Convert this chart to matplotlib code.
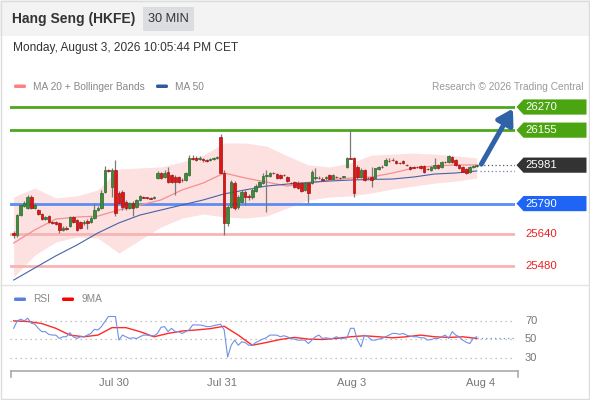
import numpy as np
import matplotlib
matplotlib.use("Agg")
import matplotlib.pyplot as plt
from matplotlib.patches import Rectangle, Polygon, FancyBboxPatch
from matplotlib.transforms import blended_transform_factory

plt.rcParams['font.family'] = ['Liberation Sans', 'DejaVu Sans']

# ---------------- data ----------------
opens = [25644, 25634, 25733, 25778, 25768, 25823, 25768, 25758, 25738, 25713,
         25728, 25698, 25698, 25694, 25659, 25669, 25679, 25723, 25708, 25698,
         25694, 25703, 25698, 25718, 25758, 25768, 25848, 25957, 25872, 25957,
         25843, 25848, 25798, 25768, 25793, 25773, 25808, 25823, 25820, 25818,
         25818, 25917, 25942, 25922, 25947, 25932, 25922, 25922, 25907, 25907,
         25932, 26017, 26017, 26012, 26012, 26007, 26007, 26012, 26017, 26121,
         25942, 25694, 25773, 25892, 25773, 25798, 25848, 25828, 25823, 25853,
         25877, 25892, 25927, 25927, 25942, 25937, 25932, 25932, 25922, 25892,
         25897, 25892, 25892, 25858, 25892, 25892, 25917, 25917, 25912, 25917,
         25932, 25912, 25922, 25917, 25922, 25972, 26017, 26017, 25972, 25922,
         25957, 25917, 25922, 25917, 25962, 25972, 25982, 26002, 26007, 26002,
         25992, 26002, 25982, 25972, 25972, 25972, 25977, 25977, 25962, 25957,
         25967, 25982, 25972, 25997, 25997, 26022, 26007, 25982, 25972, 25962,
         25947, 25972, 25977]
highs = [25654, 25738, 25788, 25803, 25833, 25833, 25793, 25763, 25743, 25728,
         25733, 25703, 25703, 25698, 25679, 25679, 25728, 25728, 25713, 25703,
         25708, 25713, 25728, 25793, 25778, 25858, 25977, 25962, 25967, 26007,
         25853, 25858, 25808, 25798, 25803, 25813, 25833, 25828, 25823, 25823,
         25828, 25952, 25947, 25957, 25972, 25937, 25932, 25927, 25917, 25947,
         26031, 26031, 26027, 26027, 26017, 26012, 26017, 26022, 26027, 26136,
         25957, 25783, 25907, 25902, 25833, 25858, 25858, 25838, 25867, 25887,
         25902, 25942, 25957, 25947, 25947, 25942, 25937, 25937, 25927, 25897,
         25902, 25902, 25897, 25897, 25897, 25957, 25967, 25927, 25922, 25927,
         25937, 25937, 25927, 25922, 25927, 26022, 26156, 26022, 25982, 25967,
         25962, 25922, 25972, 25967, 25977, 25982, 26017, 26017, 26017, 26007,
         25997, 26007, 25987, 25977, 25977, 25977, 25982, 25982, 25967, 25977,
         26017, 25987, 26002, 26002, 26031, 26027, 26012, 25987, 25977, 25967,
         25977, 25982, 25987]
lows = [25619, 25624, 25728, 25773, 25763, 25763, 25763, 25733, 25708, 25708,
        25694, 25689, 25684, 25644, 25654, 25659, 25674, 25694, 25654, 25664,
        25684, 25664, 25694, 25713, 25753, 25763, 25843, 25947, 25823, 25728,
        25788, 25758, 25758, 25763, 25728, 25768, 25803, 25818, 25813, 25813,
        25813, 25912, 25912, 25917, 25892, 25892, 25833, 25892, 25897, 25902,
        25927, 26007, 26002, 26007, 25997, 25997, 26002, 26007, 26012, 25937,
        25634, 25679, 25768, 25758, 25763, 25793, 25783, 25808, 25813, 25848,
        25872, 25887, 25748, 25922, 25937, 25912, 25912, 25927, 25897, 25887,
        25867, 25862, 25848, 25853, 25793, 25887, 25907, 25912, 25902, 25907,
        25907, 25912, 25917, 25912, 25917, 25967, 26012, 25823, 25912, 25917,
        25902, 25907, 25872, 25912, 25957, 25967, 25977, 25997, 26002, 25987,
        25987, 25987, 25977, 25957, 25967, 25967, 25962, 25942, 25957, 25952,
        25962, 25962, 25967, 25992, 25992, 25992, 25977, 25962, 25947, 25937,
        25942, 25967, 25972]
closes = [25634, 25733, 25783, 25793, 25823, 25768, 25783, 25738, 25713, 25723,
          25698, 25694, 25689, 25659, 25669, 25664, 25723, 25698, 25659, 25669,
          25698, 25694, 25718, 25758, 25768, 25843, 25957, 25952, 25957, 25743,
          25793, 25773, 25768, 25793, 25768, 25808, 25828, 25820, 25818, 25815,
          25823, 25942, 25917, 25942, 25897, 25897, 25897, 25897, 25905, 25942,
          26017, 26014, 26007, 26017, 26007, 26002, 26012, 26017, 26022, 25942,
          25694, 25773, 25897, 25768, 25823, 25848, 25823, 25823, 25858, 25877,
          25897, 25927, 25932, 25942, 25940, 25917, 25917, 25930, 25902, 25890,
          25872, 25867, 25853, 25892, 25843, 25947, 25922, 25915, 25907, 25922,
          25912, 25932, 25920, 25915, 25925, 26017, 26014, 25843, 25922, 25957,
          25907, 25915, 25907, 25967, 25972, 25970, 26007, 26000, 26005, 25992,
          25990, 25992, 25980, 25962, 25968, 25970, 25967, 25947, 25960, 25972,
          25982, 25967, 25997, 25995, 26027, 25997, 25982, 25967, 25947, 25942,
          25972, 25975, 25981]

ind_idx = [0, 6, 12, 18, 24, 30, 36, 42, 48, 54, 60, 66, 72, 78, 84, 90, 96,
           102, 108, 114, 120, 126, 132]
ma50 = [25410, 25470, 25530, 25584, 25644, 25694, 25733, 25758, 25783, 25808,
        25838, 25858, 25877, 25887, 25895, 25902, 25907, 25910, 25912, 25922,
        25937, 25942, 25952]
ma20 = [25594, 25659, 25713, 25723, 25728, 25758, 25783, 25808, 25858, 25892,
        25942, 25917, 25897, 25877, 25892, 25907, 25917, 25922, 25942, 25967,
        25977, 25982, 25982]
bb_upper = [25823, 25867, 25818, 25828, 25858, 25962, 25967, 25972, 25997, 26031,
            26091, 26091, 26076, 26027, 25982, 25972, 25992, 26031, 26036, 26041,
            26036, 26027, 26017]
bb_lower = [25425, 25534, 25599, 25624, 25619, 25544, 25609, 25674, 25718, 25738,
            25723, 25718, 25728, 25768, 25808, 25823, 25828, 25843, 25862, 25877,
            25892, 25902, 25917]

rsi = [62.0, 70.0, 71.8, 70.0, 72.9, 67.5, 66.4, 62.0, 58.4, 58.4,
       55.5, 54.7, 54.7, 51.1, 52.9, 52.9, 57.3, 52.9, 51.1, 52.9,
       52.9, 54.7, 56.5, 60.9, 60.2, 63.8, 69.3, 74.7, 74.7, 74.7,
       49.3, 54.7, 52.9, 51.1, 51.8, 51.1, 52.9, 54.7, 54.7, 54.0,
       54.0, 56.5, 63.1, 63.8, 58.4, 62.0, 58.4, 58.4, 56.5, 58.4,
       60.2, 65.6, 65.6, 65.6, 64.9, 63.8, 63.8, 64.9, 65.6, 66.4,
       60.2, 31.1, 43.8, 49.3, 43.8, 47.5, 46.7, 43.8, 43.8, 46.7,
       48.5, 50.4, 51.8, 54.7, 54.7, 54.7, 52.9, 54.0, 52.9, 51.1,
       50.4, 49.3, 49.3, 49.3, 45.6, 49.3, 52.9, 54.7, 51.1, 51.8,
       51.1, 51.1, 52.9, 51.1, 51.1, 51.8, 62.0, 62.0, 49.3, 42.0,
       54.7, 52.9, 49.3, 49.3, 50.4, 51.1, 52.9, 54.7, 56.5, 56.5,
       55.5, 56.5, 54.7, 53.5, 52.9, 52.9, 51.8, 51.8, 49.3, 50.0,
       51.1, 51.1, 52.9, 54.7, 51.1, 58.4, 54.7, 52.9, 49.3, 47.0,
       45.6, 51.1, 52.9]
rsi_ma_idx = [0, 4, 8, 12, 16, 20, 24, 28, 32, 36, 40, 44, 48, 52, 56, 60, 64,
              68, 72, 76, 80, 84, 88, 92, 96, 100, 104, 108, 112, 116, 120,
              124, 128, 132]
rsi_ma9 = [70.0, 69.3, 67.1, 62.0, 54.7, 52.9, 54.7, 62.7, 62.7, 58.4, 52.9,
           56.5, 59.1, 60.2, 61.6, 64.2, 54.7, 43.8, 46.7, 50.0, 52.2, 50.4,
           50.0, 51.1, 52.9, 54.0, 52.9, 51.8, 52.9, 54.7, 52.9, 52.2, 52.9,
           51.1]

tick_pos = [28.6, 59.4, 96.2, 133.2]
tick_labels = ["Jul 30", "Jul 31", "Aug 3", "Aug 4"]

levels_green = [26270, 26155]
level_last = 25981
level_blue = 25790
levels_red = [25640, 25480]
rsi_levels = [70, 50, 30]

# ---------------- figure ----------------
W, H = 590, 400
fig = plt.figure(figsize=(W / 100, H / 100), dpi=100)
fig.patch.set_facecolor('white')


def rect(x0, y0, x1, y1):
    return [x0 / W, 1 - y1 / H, (x1 - x0) / W, (y1 - y0) / H]


bg = fig.add_axes([0, 0, 1, 1])
bg.set_xlim(0, W)
bg.set_ylim(H, 0)
bg.axis('off')
bg.set_zorder(0)

# header
bg.add_patch(Rectangle((0, 0), W, 36, color='#f3f3f3', lw=0))
bg.add_patch(Rectangle((0.5, 0.5), W - 1.5, H - 1.5, fill=False, ec='#dcdcdc', lw=1))
bg.text(12, 19, "Hang Seng (HKFE)", fontsize=10.0, fontweight='bold', color='#333333',
        va='center', ha='left')
bg.add_patch(Rectangle((143, 7), 51, 24, color='#dcdde0', lw=0))
bg.text(168.5, 19.5, "30 MIN", fontsize=9.2, color='#333333', va='center', ha='center')
bg.text(13, 48, "Monday, August 3, 2026 10:05:44 PM CET", fontsize=8.6, color='#333333',
        va='center', ha='left')

# legends
bg.add_patch(FancyBboxPatch((14, 84.5), 12, 3.5, boxstyle='round,pad=0,rounding_size=1.5',
                            color='#ff8080', lw=0))
bg.text(33, 86.5, "MA 20 + Bollinger Bands", fontsize=7.3, color='#888888', va='center')
bg.add_patch(FancyBboxPatch((156, 84.5), 12, 3.5, boxstyle='round,pad=0,rounding_size=1.5',
                            color='#2f5a9e', lw=0))
bg.text(175, 86.5, "MA 50", fontsize=7.3, color='#888888', va='center')
bg.text(583, 86.5, "Research \u00a9 2026 Trading Central", fontsize=7.3, color='#999999',
        va='center', ha='right')

bg.add_patch(FancyBboxPatch((14, 297.5), 12, 3.5, boxstyle='round,pad=0,rounding_size=1.5',
                            color='#5b7fe0', lw=0))
bg.text(33, 299.5, "RSI", fontsize=7.3, color='#888888', va='center')
bg.add_patch(FancyBboxPatch((62, 297.5), 12, 3.5, boxstyle='round,pad=0,rounding_size=1.5',
                            color='#ff0000', lw=0))
bg.text(81, 299.5, "9MA", fontsize=7.3, color='#888888', va='center')

# separator between panels
bg.plot([0, W], [284.5, 284.5], color='#e4e4e4', lw=1)

# ---------------- price panel ----------------
ax = fig.add_axes(rect(10, 60, 515, 284))
ax.set_zorder(1)
ax.patch.set_alpha(0)
xmin, xmax = -1.055, 142.9
ymin, ymax = 25390.3, 26503.6
ax.set_xlim(xmin, xmax)
ax.set_ylim(ymin, ymax)
ax.axis('off')
ppx = (ymax - ymin) / 224.0

idx = np.arange(len(closes))
o = np.array(opens, float)
c = np.array(closes, float)
hi = np.array(highs, float)
lo = np.array(lows, float)

ax.fill_between(ind_idx, bb_lower, bb_upper, color='#fde0e0', lw=0, zorder=1)
ax.plot(ind_idx, ma20, color='#f49090', lw=0.9, zorder=2)
ax.plot(ind_idx, ma50, color='#4563a8', lw=0.8, zorder=2)

for lv in levels_green:
    ax.axhline(lv, color='#4ea81c', lw=2, zorder=1.5)
ax.axhline(level_blue, color='#5b8ef2', lw=2, zorder=1.5)
for lv in levels_red:
    ax.axhline(lv, color='#f7b4b4', lw=2, zorder=1.5)

up = c >= o
ax.vlines(idx, lo, hi, color='#7a7a7a', lw=0.9, zorder=3)
body_h = np.where(np.abs(c - o) < 4, 4, np.abs(c - o))
body_b = np.minimum(o, c)
ax.bar(idx[up], body_h[up], bottom=body_b[up], width=0.72, color='#3d8b3d',
       edgecolor='#2b6a2b', lw=0.5, zorder=4)
ax.bar(idx[~up], body_h[~up], bottom=body_b[~up], width=0.72, color='#dd1515',
       edgecolor='#a81010', lw=0.5, zorder=4)

# dotted extensions
x_last = idx[-1]
ax.plot([x_last + 0.8, xmax], [closes[-1], closes[-1]], ls=(0, (1, 2)), color='#555555',
        lw=0.9, zorder=2)
ax.plot([x_last + 0.8, xmax], [ma50[-1], ma50[-1]], ls=(0, (1, 2)), color='#6f86c0',
        lw=0.9, zorder=2)

# arrow
ax.annotate('', xy=(142.3, 26262), xytext=(x_last + 1.3, closes[-1] + 5),
            arrowprops=dict(arrowstyle='-|>,head_length=0.9,head_width=0.55', lw=3.6,
                            color='#2f62a6', shrinkA=0, shrinkB=0),
            zorder=6, annotation_clip=False)

tr = blended_transform_factory(ax.transAxes, ax.transData)


def tag(price, color, text):
    h = 7.6 * ppx
    x0 = 1.0 + 1.5 / 505
    x1 = 1.0 + 8.5 / 505
    x2 = 1.0 + 71.5 / 505
    poly = Polygon([(x0, price), (x1, price + h), (x2, price + h), (x2, price - h),
                    (x1, price - h)], closed=True, transform=tr, clip_on=False,
                   color=color, lw=0, zorder=5)
    ax.add_patch(poly)
    ax.text(1.0 + 10.5 / 505, price, text, transform=tr, color='white', fontsize=8.2,
            va='center', ha='left', clip_on=False, zorder=6)


for lv in levels_green:
    tag(lv, '#4aa511', str(lv))
tag(level_last, '#333333', str(level_last))
tag(level_blue, '#1e64f5', str(level_blue))
for lv in levels_red:
    ax.text(1.0 + 10.5 / 505, lv, str(lv), transform=tr, color='#ee2020', fontsize=8.2,
            va='center', ha='left', clip_on=False)

# ---------------- RSI panel ----------------
ax2 = fig.add_axes(rect(10, 300, 515, 370))
ax2.set_zorder(1)
ax2.patch.set_alpha(0)
ax2.set_xlim(xmin, xmax)
ax2.set_ylim(17.2, 92.4)
ax2.axis('off')
for lv in rsi_levels:
    ax2.axhline(lv, color='#b0b0b0', lw=0.9, ls=(0, (1, 3)))
    ax2.text(1.0 + 10 / 505, lv, str(lv), transform=blended_transform_factory(
        ax2.transAxes, ax2.transData), color='#777777', fontsize=8, va='center',
        ha='left', clip_on=False)
ax2.plot(idx, rsi, color='#7090e8', lw=0.8, zorder=3)
ax2.plot(rsi_ma_idx, rsi_ma9, color='#ff2a2a', lw=1.0, zorder=2)
ax2.plot([x_last, xmax], [rsi[-1] - 1.5, rsi[-1] - 1.5], ls=(0, (1, 2.5)), color='#7090e8',
         lw=0.9)

# x axis bracket
bg.plot([11, 518], [371, 371], color='#aaaaaa', lw=1.2)
bg.plot([11, 11], [370.5, 377], color='#aaaaaa', lw=1.2)
bg.plot([518, 518], [370.5, 377], color='#aaaaaa', lw=1.2)
for p, lab in zip(tick_pos, tick_labels):
    xp = 10 + (p - xmin) / (xmax - xmin) * 505
    bg.text(xp, 382.5, lab, fontsize=8, color='#777777', ha='center', va='center')

fig.savefig('out.png', dpi=100)
